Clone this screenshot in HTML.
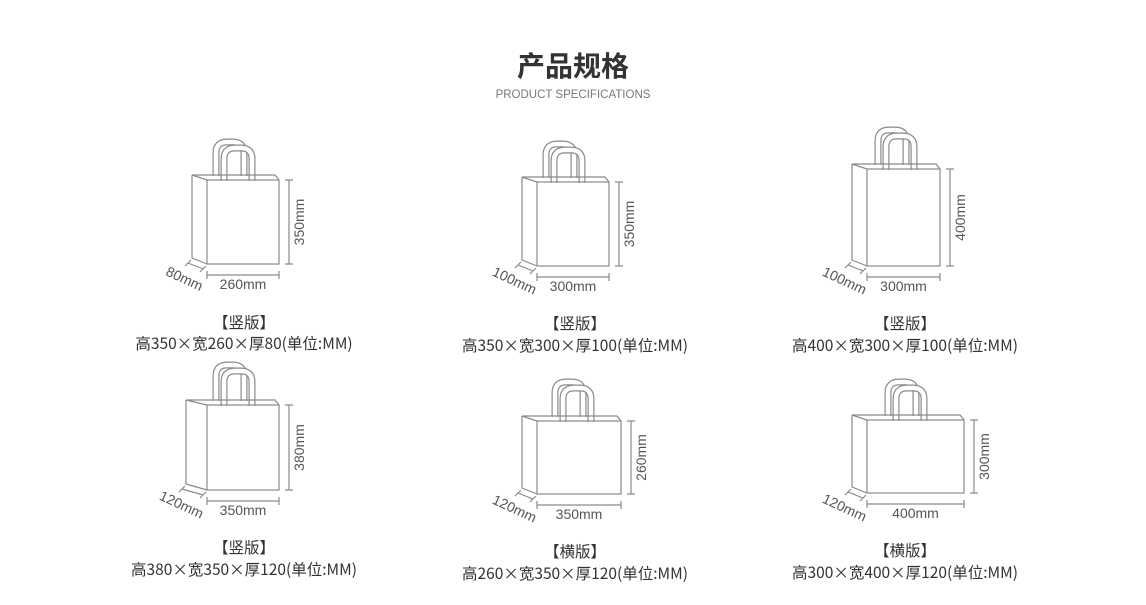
<!DOCTYPE html>
<html><head><meta charset="utf-8">
<style>
body{margin:0;width:1146px;height:605px;background:#fff;overflow:hidden;font-family:"Liberation Sans","Noto Sans CJK SC",sans-serif;}
svg{position:absolute;left:0;top:0}
</style></head><body>
<svg id="s" width="1146" height="605" xmlns="http://www.w3.org/2000/svg" font-family="Liberation Sans, Noto Sans CJK SC, sans-serif">
<text x="573" y="76" text-anchor="middle" font-size="28" font-weight="bold" fill="#333" font-family="Noto Sans CJK SC, sans-serif">产品规格</text>
<text x="573" y="98" text-anchor="middle" font-size="11.5" fill="#777">PRODUCT SPECIFICATIONS</text>
<g font-size="15.5" fill="#333" text-anchor="middle" font-family="Noto Sans CJK SC, sans-serif">
<text x="244" y="328">【竖版】</text>
<text x="244" y="349">高350×宽260×厚80(单位:MM)</text>
<text x="575" y="329">【竖版】</text>
<text x="575" y="351">高350×宽300×厚100(单位:MM)</text>
<text x="905" y="329">【竖版】</text>
<text x="905" y="351">高400×宽300×厚100(单位:MM)</text>
<text x="244" y="553">【竖版】</text>
<text x="244" y="575">高380×宽350×厚120(单位:MM)</text>
<text x="575" y="557">【横版】</text>
<text x="575" y="579">高260×宽350×厚120(单位:MM)</text>
<text x="905" y="556">【横版】</text>
<text x="905" y="578">高300×宽400×厚120(单位:MM)</text>
</g>
<g id="bags"></g>
</svg>
<script>
var bags=[
[192,207,279,180,264,215,140,"350mm","260mm","80mm"],
[522,537,609,182,266,545,142,"350mm","300mm","100mm"],
[852,867,940,169,266,877,128,"400mm","300mm","100mm"],
[186,207,279,405,490,215,363,"380mm","350mm","120mm"],
[522,537,621,421,494,554,380,"260mm","350mm","120mm"],
[852,867,964,420,493,887,380,"300mm","400mm","120mm"]];
var h="",c="#8a8a8a";
bags.forEach(function(b){
var L=b[0],X0=b[1],X1=b[2],T=b[3],B=b[4],HX=b[5],HT=b[6];
var g='fill="none" stroke="'+c+'" stroke-width="1.2"';
function handle(x,top,bot){var w=28;
var d='M'+x+' '+bot+'V'+(top+11)+'Q'+x+' '+top+' '+(x+11)+' '+top+'H'+(x+w-11)+'Q'+(x+w)+' '+top+' '+(x+w)+' '+(top+11)+'V'+bot;
return '<path d="'+d+'" fill="none" stroke="'+c+'" stroke-width="7"/><path d="'+d+'" fill="none" stroke="#fff" stroke-width="4.6"/>';}
h+=handle(HX+1,HT+2,T-4)+handle(HX+9,HT+8,T+1);
h+='<path d="M'+L+' '+(T-5)+'H'+(X1-4)+'L'+X1+' '+T+'" '+g+'/>';
h+='<rect x="'+X0+'" y="'+T+'" width="'+(X1-X0)+'" height="'+(B-T)+'" '+g+' />';
h+='<path d="M'+L+' '+(T-5)+'L'+X0+' '+T+'M'+L+' '+(T-5)+'V'+(B-6)+'L'+X0+' '+B+'" '+g+'/>';
var vx=X1+10;
h+='<path d="M'+vx+' '+T+'V'+B+'M'+(vx-4)+' '+T+'H'+(vx+4)+'M'+(vx-4)+' '+B+'H'+(vx+4)+'" '+g+' stroke-width="1"/>';
var my=(T+B)/2;
h+='<text x="'+(vx+15)+'" y="'+my+'" font-size="14" fill="#555" text-anchor="middle" transform="rotate(-90 '+(vx+15)+' '+my+')">'+b[7]+'</text>';
var by=B+11;
h+='<path d="M'+X0+' '+by+'H'+X1+'M'+X0+' '+(by-4)+'V'+(by+4)+'M'+X1+' '+(by-4)+'V'+(by+4)+'" '+g+' stroke-width="1"/>';
h+='<text x="'+((X0+X1)/2)+'" y="'+(by+14)+'" font-size="14" fill="#555" text-anchor="middle">'+b[8]+'</text>';
var ax=L-4,ay=B-1,bx=X0-4,by2=B+5;
h+='<path d="M'+ax+' '+ay+'L'+bx+' '+by2+'M'+(ax-3)+' '+(ay+3)+'L'+(ax+3)+' '+(ay-3)+'M'+(bx-3)+' '+(by2+3)+'L'+(bx+3)+' '+(by2-3)+'" '+g+' stroke-width="1"/>';
var tx=(ax+bx)/2-13,ty=B+19;
h+='<text x="'+tx+'" y="'+ty+'" font-size="14" fill="#555" text-anchor="middle" transform="rotate(25 '+tx+' '+ty+')">'+b[9]+'</text>';
});
document.getElementById('bags').innerHTML=h;
</script>
</body></html>
